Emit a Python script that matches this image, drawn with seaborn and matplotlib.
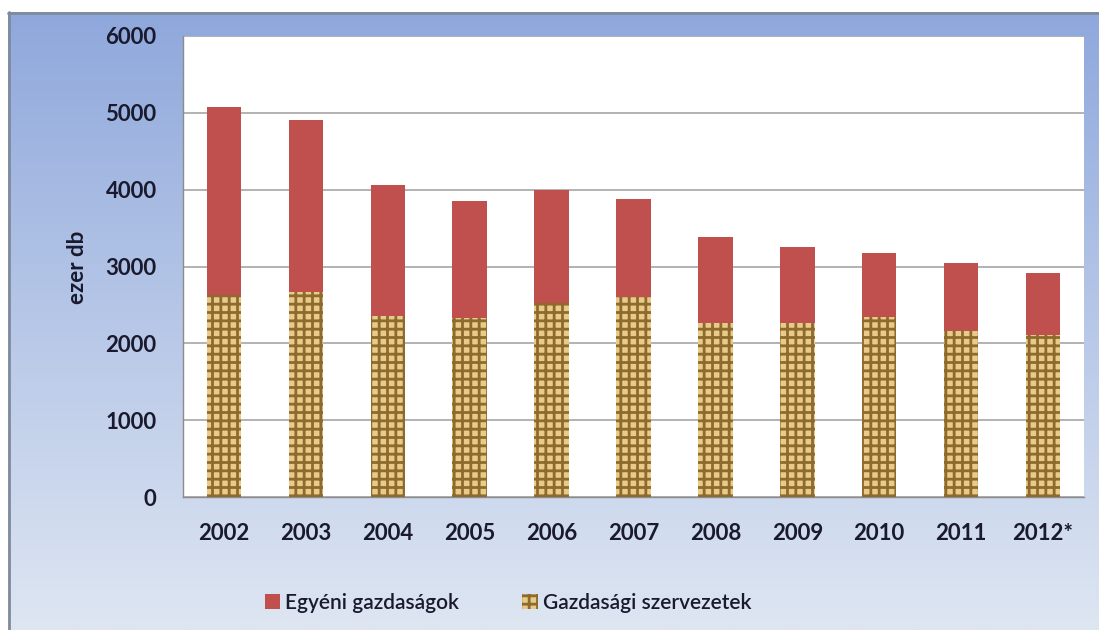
import numpy as np
import pandas as pd
import matplotlib
matplotlib.use("Agg")
import matplotlib.pyplot as plt
from matplotlib.patches import Patch
import seaborn as sns

years = ["2002", "2003", "2004", "2005", "2006", "2007", "2008", "2009", "2010", "2011", "2012*"]
gazdasagi = [2630, 2670, 2360, 2330, 2530, 2600, 2270, 2270, 2340, 2160, 2110]
egyeni = [2450, 2240, 1700, 1520, 1470, 1280, 1120, 990, 830, 880, 810]
yticks = [0, 1000, 2000, 3000, 4000, 5000, 6000]
series_names = ["Egyéni gazdaságok", "Gazdasági szervezetek"]

sns.set_theme(style="white")
plt.rcParams["font.family"] = ["Lato", "DejaVu Sans"]
plt.rcParams["hatch.linewidth"] = 2.0

W, H = 1099, 630
fig = plt.figure(figsize=(W / 100, H / 100), dpi=100)
fig.patch.set_facecolor("white")

# background frame with gradient
bg = fig.add_axes([8 / W, 0, 1 - 8 / W, (H - 12) / H])
bg.set_axis_off()
top = np.array([143, 168, 220]) / 255
bot = np.array([222, 230, 242]) / 255
t = np.linspace(0, 1, 256)[:, None]
grad = top[None, :] * (1 - t) + bot[None, :] * t
grad = np.repeat(grad[:, None, :], 2, axis=1)
bg.imshow(grad, aspect="auto", extent=[0, 1, 0, 1], origin="upper")
bg.set_xlim(0, 1); bg.set_ylim(0, 1)
bg.plot([0.001, 0.001], [0, 1], color="#7f8b9c", lw=2, transform=bg.transAxes, clip_on=False)
bg.plot([0, 1], [0.998, 0.998], color="#7f8b9c", lw=2, transform=bg.transAxes, clip_on=False)

L, R, T, B = 183, 1084, 36, 497
ax = fig.add_axes([L / W, (H - B) / H, (R - L) / W, (B - T) / H])
ax.set_facecolor("white")

df = pd.DataFrame({"year": years, "gazd": gazdasagi, "egy": egyeni})
df["total"] = df["gazd"] + df["egy"]

red = "#C0504D"
tan = "#E8CB88"
brown = "#8E6A2E"

sns.barplot(data=df, x="year", y="total", color=red, width=0.42, ax=ax,
            saturation=1, edgecolor="none", zorder=3)
n_red = len(ax.patches)
sns.barplot(data=df, x="year", y="gazd", color=tan, width=0.42, ax=ax,
            saturation=1, edgecolor=brown, linewidth=0, zorder=4)
for p in ax.patches[n_red:]:
    p.set_hatch("++")
    p.set_edgecolor(brown)
    p.set_linewidth(0)

ax.set_ylim(0, 6000)
ax.set_xlim(-0.5, len(years) - 0.5)
ax.set_yticks(yticks)
ax.yaxis.grid(True, color="#A6A6A6", lw=1.2, zorder=0)
ax.set_axisbelow(True)
for s in ["top", "right"]:
    ax.spines[s].set_visible(False)
for s in ["left", "bottom"]:
    ax.spines[s].set_color("#8c8c8c")
    ax.spines[s].set_linewidth(1)

ax.set_xticks(np.arange(-0.5, len(years), 1.0), minor=True)
ax.tick_params(axis="x", which="minor", length=7, color="#8c8c8c", width=1, direction="out")
ax.tick_params(axis="x", which="major", length=0, pad=19)
ax.tick_params(axis="y", which="major", length=7, color="#8c8c8c", width=1, direction="out", pad=12)
ax.tick_params(axis="both", labelsize=16, labelcolor="#1a1a2e")
for lbl in ax.get_xticklabels() + ax.get_yticklabels():
    lbl.set_fontweight("bold")

ax.set_xlabel("")
ax.set_ylabel("")
fig.text(78 / W, 1 - 267 / H, "ezer db", rotation=90, ha="center", va="center",
         fontsize=16, fontweight="bold", color="#1a1a2e")

handles = [Patch(facecolor=red, edgecolor="none"),
           Patch(facecolor=tan, edgecolor=brown, hatch="++", linewidth=0)]
leg = fig.legend(handles, series_names, loc="center", bbox_to_anchor=(508 / W, 1 - 603 / H),
                 ncol=2, frameon=False, fontsize=15, handlelength=0.75, handleheight=0.75,
                 handletextpad=0.25, columnspacing=3.0)
for txt in leg.get_texts():
    txt.set_color("#1a1a2e")
    txt.set_fontweight("semibold")

fig.savefig("out.png", dpi=100)
